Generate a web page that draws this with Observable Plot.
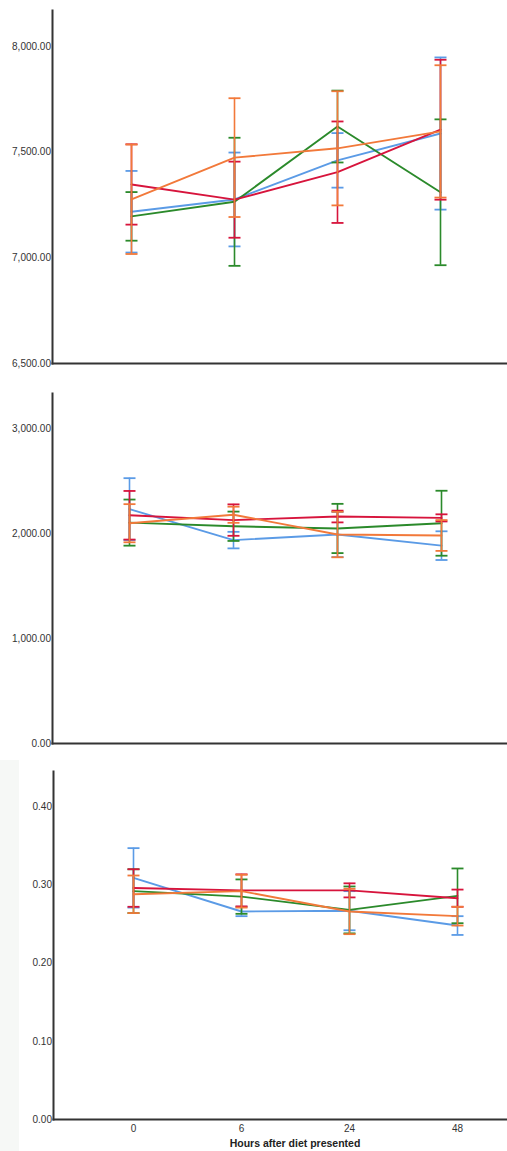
<!DOCTYPE html>
<html>
<head>
<meta charset="utf-8">
<script src="https://cdn.jsdelivr.net/npm/d3@7"></script>
<script src="https://cdn.jsdelivr.net/npm/@observablehq/plot@0.6"></script>
<style>
  html, body { margin: 0; padding: 0; background: #ffffff; }
  #wrap { position: relative; width: 507px; height: 1151px; overflow: hidden; font-family: "Liberation Sans", Arial, sans-serif; }
  #wrap svg { display: block; background: transparent; }
  #strip { position: absolute; left: 0; top: 760px; width: 19px; height: 391px; background: #f6f8f6; }
  #xlabel { position: absolute; left: 195px; width: 200px; top: 1137px; text-align: center; font-weight: bold; font-size: 10.5px; line-height: 12px; color: #222; }
</style>
</head>
<body>
<div id="wrap">
  <div id="p1"></div>
  <div id="p2"></div>
  <div id="p3"></div>
  <div id="strip"></div>
  <div id="xlabel">Hours after diet presented</div>
</div>
<script>
// ---- categories ----
const hours = ["0", "6", "24", "48"];
const groups = ["Blue", "Green", "Red", "Orange"];
const groupColors = ["#5b9be6", "#2b8a2b", "#d7143c", "#f2793a"];

// ---- panel 1 (means and half error-bar lengths) ----
const p1Blue = [7218, 7276, 7461, 7588];
const p1BlueErr = [193, 222, 129, 360];
const p1Green = [7196, 7265, 7621, 7310];
const p1GreenErr = [115, 303, 170, 345];
const p1Red = [7347, 7275, 7405, 7606];
const p1RedErr = [190, 180, 240, 331];
const p1Orange = [7277, 7474, 7518, 7598];
const p1OrangeErr = [259, 281, 270, 313];
const p1Ticks = [6500, 7000, 7500, 8000];

// ---- panel 2 ----
const p2Blue = [2237, 1941, 1994, 1888];
const p2BlueErr = [295, 79, 215, 137];
const p2Green = [2108, 2073, 2052, 2102];
const p2GreenErr = [220, 140, 235, 310];
const p2Red = [2178, 2132, 2166, 2153];
const p2RedErr = [232, 150, 56, 34];
const p2Orange = [2102, 2183, 1994, 1985];
const p2OrangeErr = [182, 77, 217, 147];
const p2Ticks = [0, 1000, 2000, 3000];

// ---- panel 3 ----
const p3Blue = [0.309, 0.266, 0.267, 0.248];
const p3BlueErr = [0.038, 0.006, 0.025, 0.012];
const p3Green = [0.292, 0.285, 0.268, 0.286];
const p3GreenErr = [0.028, 0.022, 0.030, 0.035];
const p3Red = [0.296, 0.293, 0.293, 0.283];
const p3RedErr = [0.024, 0.0205, 0.009, 0.011];
const p3Orange = [0.288, 0.292, 0.266, 0.260];
const p3OrangeErr = [0.024, 0.021, 0.029, 0.012];
const p3Ticks = [0, 0.1, 0.2, 0.3, 0.4];

function rowsFor(meansList, errsList) {
  const rows = [];
  groups.forEach((g, gi) => {
    hours.forEach((h, hi) => {
      const m = meansList[gi][hi], e = errsList[gi][hi];
      rows.push({group: g, hour: h, mean: m, lo: m - e, hi: m + e});
    });
  });
  return rows;
}

// horizontal cap glyph for error bars
const capSymbol = {
  draw(ctx) { ctx.moveTo(-6, 0); ctx.lineTo(6, 0); }
};

function panel({rows, yDomain, ticks, fmt, xRange, marginLeft, marginTop, marginBottom, height, showX}) {
  const marks = [];
  groups.forEach((g, gi) => {
    const data = rows.filter(d => d.group === g);
    const c = groupColors[gi];
    marks.push(Plot.ruleX(data, {x: "hour", y1: "lo", y2: "hi", stroke: c, strokeWidth: 1.6}));
    marks.push(Plot.dot(data, {x: "hour", y: "hi", symbol: capSymbol, stroke: c, fill: "none", strokeWidth: 1.8}));
    marks.push(Plot.dot(data, {x: "hour", y: "lo", symbol: capSymbol, stroke: c, fill: "none", strokeWidth: 1.8}));
    marks.push(Plot.line(data, {x: "hour", y: "mean", stroke: c, strokeWidth: 1.9}));
  });
  marks.push(Plot.frame({anchor: "left", stroke: "#333", strokeWidth: 2}));
  marks.push(Plot.frame({anchor: "bottom", stroke: "#333", strokeWidth: 2}));
  marks.push(Plot.axisY({ticks, tickFormat: fmt, tickSize: 0, tickPadding: 1.5, fontSize: 10, fill: "#333", label: null}));
  if (showX) {
    marks.push(Plot.axisX({tickSize: 0, tickPadding: 5, fontSize: 10, fill: "#333", label: null}));
  } else {
    marks.push(Plot.axisX({ticks: [], label: null}));
  }
  return Plot.plot({
    width: 507,
    height,
    marginLeft,
    marginRight: 0,
    marginTop,
    marginBottom,
    style: {fontFamily: "'Liberation Sans', Arial, sans-serif", fontSize: "10px", background: "transparent", color: "#333"},
    x: {type: "point", domain: hours, range: xRange, padding: 0, axis: null},
    y: {domain: yDomain, axis: null},
    marks
  });
}

document.getElementById("p1").append(panel({
  rows: rowsFor([p1Blue, p1Green, p1Red, p1Orange], [p1BlueErr, p1GreenErr, p1RedErr, p1OrangeErr]),
  yDomain: [6500, 8170], ticks: p1Ticks, fmt: d3.format(",.2f"),
  xRange: [130, 441], marginLeft: 52, marginTop: 10, marginBottom: 17, height: 380, showX: false
}));
document.getElementById("p2").append(panel({
  rows: rowsFor([p2Blue, p2Green, p2Red, p2Orange], [p2BlueErr, p2GreenErr, p2RedErr, p2OrangeErr]),
  yDomain: [0, 3340], ticks: p2Ticks, fmt: d3.format(",.2f"),
  xRange: [128, 441], marginLeft: 52, marginTop: 13, marginBottom: 17, height: 380, showX: false
}));
document.getElementById("p3").append(panel({
  rows: rowsFor([p3Blue, p3Green, p3Red, p3Orange], [p3BlueErr, p3GreenErr, p3RedErr, p3OrangeErr]),
  yDomain: [0, 0.445], ticks: p3Ticks, fmt: d3.format(".2f"),
  xRange: [132, 458], marginLeft: 53, marginTop: 11, marginBottom: 32, height: 391, showX: true
}));
</script>
</body>
</html>
